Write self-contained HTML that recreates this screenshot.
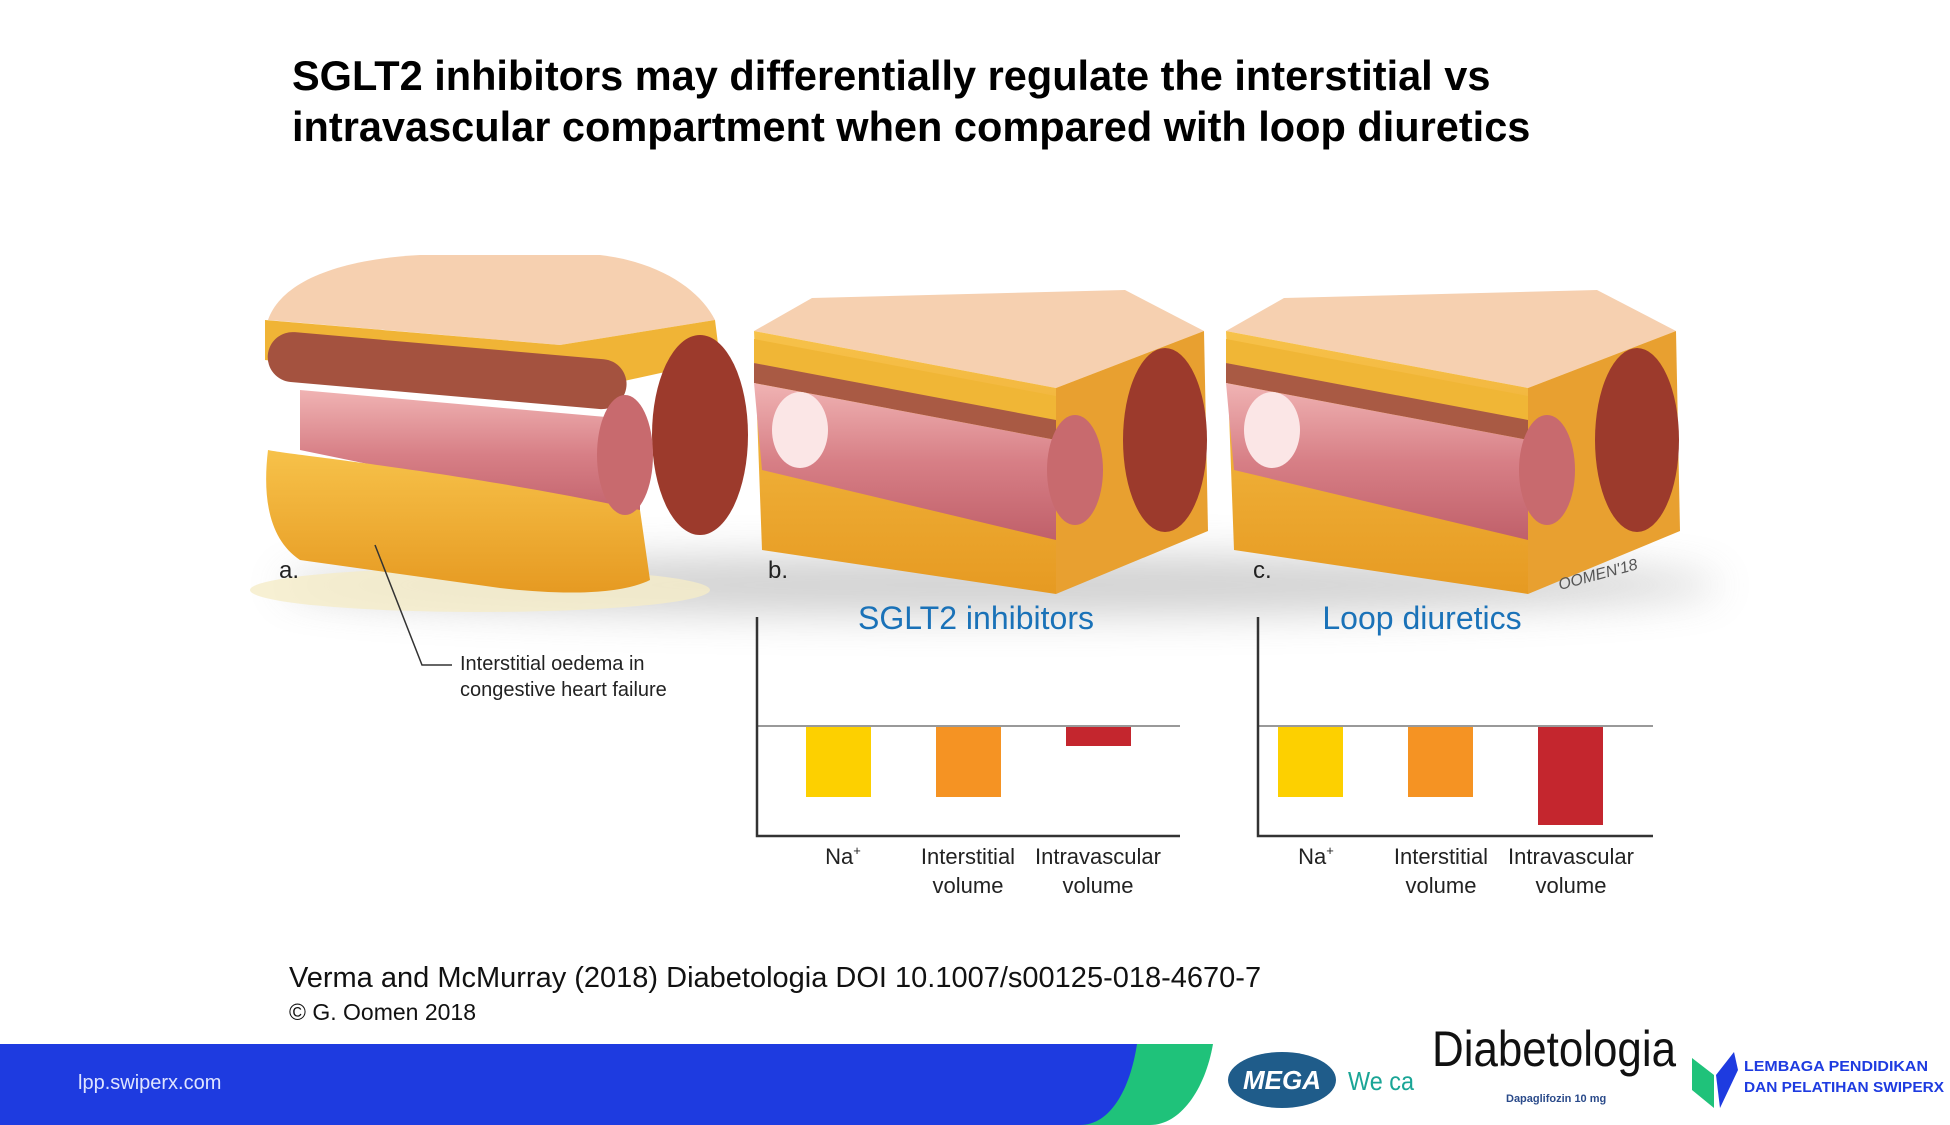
<!DOCTYPE html>
<html><head><meta charset="utf-8"><style>
body{margin:0;width:1950px;height:1125px;background:#fff;position:relative;overflow:hidden;font-family:"Liberation Sans",sans-serif}
.t{position:absolute;white-space:nowrap}
</style></head><body>
<div class="t" style="left:292px;top:50px;font-size:41.5px;font-weight:bold;line-height:51px;color:#000">SGLT2 inhibitors may differentially regulate the interstitial vs<br>intravascular compartment when compared with loop diuretics</div>

<svg width="1950" height="1125" style="position:absolute;left:0;top:0">
<defs>
<filter id="bl" x="-20%" y="-200%" width="140%" height="500%"><feGaussianBlur stdDeviation="20"/></filter>
<linearGradient id="fat" x1="0" y1="0" x2="0" y2="1"><stop offset="0" stop-color="#f7c24a"/><stop offset="1" stop-color="#e69a22"/></linearGradient>
<linearGradient id="pk" x1="0" y1="0" x2="0" y2="1"><stop offset="0" stop-color="#f0b3b3"/><stop offset="0.5" stop-color="#d77f86"/><stop offset="1" stop-color="#c0606a"/></linearGradient>
<g id="blk">
<polygon points="754,331 812,298 1125,290 1204,331 1056,388" fill="#f6d0b0"/>
<polygon points="754,331 1056,388 1056,594 762,550" fill="url(#fat)"/>
<polygon points="754,339 1056,396 1056,420 754,363" fill="#f0b636"/>
<polygon points="754,363 1056,420 1056,440 754,383" fill="#a95a44"/>
<polygon points="754,383 1056,440 1056,540 762,470" fill="url(#pk)"/>
<ellipse cx="800" cy="430" rx="28" ry="38" fill="#fbe6e6"/>
<polygon points="1056,388 1204,331 1208,531 1056,594" fill="#e8a030"/>
<ellipse cx="1165" cy="440" rx="42" ry="92" fill="#9c3a2c"/>
<ellipse cx="1075" cy="470" rx="28" ry="55" fill="#c86a6e"/>
</g>
</defs>
<ellipse cx="1000" cy="585" rx="720" ry="30" fill="#999" opacity="0.45" filter="url(#bl)"/>
<!-- block a -->
<ellipse cx="480" cy="590" rx="230" ry="22" fill="#f5ecc8" opacity="0.8"/>
<path d="M268,320 C280,285 330,260 420,255 L600,255 C660,262 700,290 715,320 L560,345 Z" fill="#f6d0b0"/>
<path d="M265,320 L560,345 L715,320 L720,360 L560,395 L265,360 Z" fill="#f0b436"/>
<rect x="270" y="330" width="360" height="50" rx="25" fill="#a4523f" transform="rotate(5 270 330)"/>
<path d="M300,390 L640,420 L640,520 L300,450 Z" fill="url(#pk)"/>
<path d="M268,450 C290,455 450,470 640,510 L650,580 C620,595 560,595 500,588 L300,560 C270,540 262,500 268,450 Z" fill="url(#fat)"/>
<ellipse cx="700" cy="435" rx="48" ry="100" fill="#9c3a2c"/>
<ellipse cx="625" cy="455" rx="28" ry="60" fill="#c86a6e"/>
<use href="#blk"/>
<use href="#blk" transform="translate(472,0)"/>
<text x="1560" y="590" font-size="16" fill="#555" font-style="italic" transform="rotate(-15 1560 590)">OOMEN'18</text>
<text x="279" y="578" font-size="24" fill="#222">a.</text>
<text x="768" y="578" font-size="24" fill="#222">b.</text>
<text x="1253" y="578" font-size="24" fill="#222">c.</text>
<polyline points="375,545 422,665 452,665" fill="none" stroke="#333" stroke-width="1.5"/>
<!-- charts -->
<g font-size="32" fill="#1a72b8" text-anchor="middle">
<text x="976" y="629">SGLT2 inhibitors</text><text x="1422" y="629">Loop diuretics</text></g>
<g transform="translate(-4,-4)">
<line x1="761" y1="730" x2="1184" y2="730" stroke="#999" stroke-width="2"/>
<line x1="1262" y1="730" x2="1657" y2="730" stroke="#999" stroke-width="2"/>
<polyline points="761,621 761,840 1184,840" fill="none" stroke="#333" stroke-width="2.5"/>
<polyline points="1262,621 1262,840 1657,840" fill="none" stroke="#333" stroke-width="2.5"/>
<rect x="810" y="731" width="65" height="70" fill="#fdd000"/>
<rect x="940" y="731" width="65" height="70" fill="#f59323"/>
<rect x="1070" y="731" width="65" height="19" fill="#c4262e"/>
<rect x="1282" y="731" width="65" height="70" fill="#fdd000"/>
<rect x="1412" y="731" width="65" height="70" fill="#f59323"/>
<rect x="1542" y="731" width="65" height="98" fill="#c4262e"/>
<g font-size="22" fill="#222" text-anchor="middle">
<text x="847" y="868">Na<tspan font-size="13" dy="-9">+</tspan></text>
<text x="972" y="868">Interstitial</text><text x="972" y="897">volume</text>
<text x="1102" y="868">Intravascular</text><text x="1102" y="897">volume</text>
<text x="1320" y="868">Na<tspan font-size="13" dy="-9">+</tspan></text>
<text x="1445" y="868">Interstitial</text><text x="1445" y="897">volume</text>
<text x="1575" y="868">Intravascular</text><text x="1575" y="897">volume</text>
</g></g>
<!-- footer -->
<path d="M1100,1044 L1213,1044 C1205,1090 1180,1125 1150,1125 L1080,1125 Z" fill="#1fc27a"/>
<path d="M0,1044 L1137,1044 C1130,1090 1110,1125 1080,1125 L0,1125 Z" fill="#1e3be0"/>
<ellipse cx="1282" cy="1080" rx="54" ry="28" fill="#1f5c8a"/>
<text x="1282" y="1089" font-size="26" font-weight="bold" fill="#fff" text-anchor="middle" font-style="italic">MEGA</text>
<text x="1348" y="1090" font-size="26" fill="#1aa596" textLength="66" lengthAdjust="spacingAndGlyphs">We ca</text>
<text x="1432" y="1066" font-size="50" fill="#111" textLength="244" lengthAdjust="spacingAndGlyphs">Diabetologia</text>
<text x="1506" y="1102" font-size="11" font-weight="bold" fill="#2a4a8a">Dapaglifozin 10 mg</text>
<path d="M1692,1058 L1714,1075 L1714,1108 L1692,1090 Z" fill="#1fc27a"/>
<path d="M1716,1075 L1734,1052 L1738,1070 L1720,1108 Z" fill="#1e3be0"/>
<g font-size="15" font-weight="bold" fill="#1e3be0"><text x="1744" y="1071" textLength="184" lengthAdjust="spacingAndGlyphs">LEMBAGA PENDIDIKAN</text><text x="1744" y="1092" textLength="200" lengthAdjust="spacingAndGlyphs">DAN PELATIHAN SWIPERX</text></g>
</svg>
<div class="t" style="left:460px;top:651px;font-size:20px;line-height:26px;color:#222">Interstitial oedema in<br>congestive heart failure</div>
<div class="t" style="left:289px;top:962px;font-size:29px;color:#111">Verma and McMurray (2018) Diabetologia DOI 10.1007/s00125-018-4670-7</div>
<div class="t" style="left:289px;top:999px;font-size:23px;color:#111">© G. Oomen 2018</div>
<div class="t" style="left:78px;top:1072px;font-size:20px;color:#dfe4ff">lpp.swiperx.com</div>
</body></html>
